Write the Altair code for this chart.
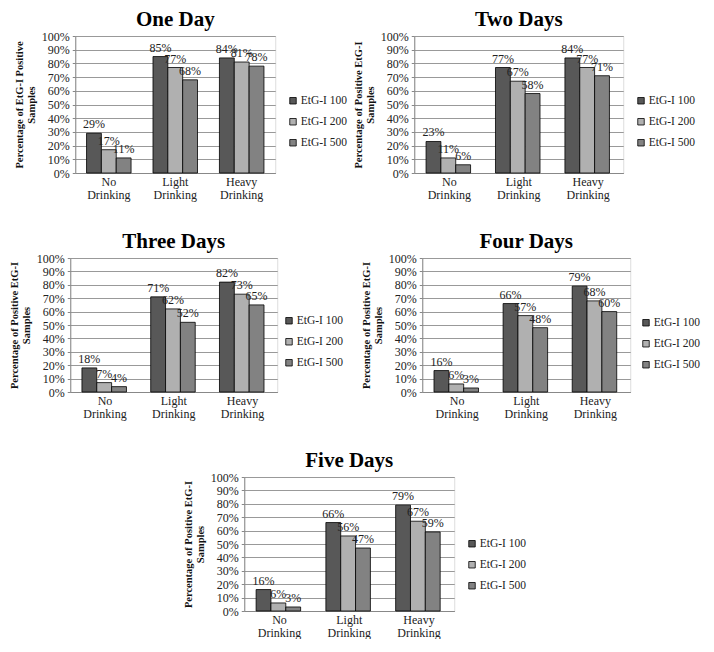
import altair as alt
import pandas as pd

categories = ["No Drinking", "Light Drinking", "Heavy Drinking"]
series = ["EtG-I 100", "EtG-I 200", "EtG-I 500"]
colors = ["#585858", "#b0b0b0", "#828282"]

titles = ["One Day", "Two Days", "Three Days", "Four Days", "Five Days"]
y_titles = [
    ["Percentage of EtG-I  Positive", "Samples"],
    ["Percentage of Positive EtG-I", "Samples"],
    ["Percentage of Positive EtG-I", "Samples"],
    ["Percentage of Positive EtG-I", "Samples"],
    ["Percentage of Positive EtG-I", "Samples"],
]

# values per series: [No Drinking, Light Drinking, Heavy Drinking]
one_day_100 = [29, 85, 84]
one_day_200 = [17, 77, 81]
one_day_500 = [11, 68, 78]

two_days_100 = [23, 77, 84]
two_days_200 = [11, 67, 77]
two_days_500 = [6, 58, 71]

three_days_100 = [18, 71, 82]
three_days_200 = [7, 62, 73]
three_days_500 = [4, 52, 65]

four_days_100 = [16, 66, 79]
four_days_200 = [6, 57, 68]
four_days_500 = [3, 48, 60]

five_days_100 = [16, 66, 79]
five_days_200 = [6, 56, 67]
five_days_500 = [3, 47, 59]

panel_values = [
    [one_day_100, one_day_200, one_day_500],
    [two_days_100, two_days_200, two_days_500],
    [three_days_100, three_days_200, three_days_500],
    [four_days_100, four_days_200, four_days_500],
    [five_days_100, five_days_200, five_days_500],
]

FONT = "Liberation Serif"
panel_w = [200, 209, 207, 208, 210]
panel_h = [137, 137, 134, 134, 134]
legend_offset = [12, 12, 6, 10, 12]
legend_pad = [58, 58, 56, 58, 60]


def panel(i):
    rows = []
    for s, vals in zip(series, panel_values[i]):
        for c, v in zip(categories, vals):
            rows.append({"cat": c, "series": s, "value": v, "label": f"{v}%"})
    df = pd.DataFrame(rows)
    base = alt.Chart(df).encode(
        x=alt.X(
            "cat:N",
            sort=categories,
            scale=alt.Scale(paddingInner=0.33, paddingOuter=0.17),
            axis=alt.Axis(
                title=None,
                labelAngle=0,
                labelExpr="split(datum.label, ' ')",
                ticks=False,
                domainColor="#888888",
                labelFont=FONT,
                labelFontSize=12,
                labelColor="#222222",
                labelPadding=3,
                labelLineHeight=13,
            ),
        ),
        xOffset=alt.XOffset("series:N", sort=series),
        y=alt.Y(
            "value:Q",
            scale=alt.Scale(domain=[0, 100], nice=False),
            axis=alt.Axis(
                values=list(range(0, 101, 10)),
                labelExpr="datum.value + '%'",
                title=y_titles[i],
                titleFont=FONT,
                titleFontSize=10.5,
                titleFontWeight="bold",
                titleColor="#111111",
                titleLineHeight=12,
                titlePadding=5,
                labelFont=FONT,
                labelFontSize=12,
                labelColor="#222222",
                ticks=True,
                tickSize=3,
                tickColor="#888888",
                domainColor="#888888",
                gridColor="#999999",
                labelPadding=3,
            ),
        ),
    )
    bars = base.mark_bar(stroke="black", strokeWidth=0.8).encode(
        color=alt.Color(
            "series:N",
            sort=series,
            scale=alt.Scale(domain=series, range=colors),
            legend=alt.Legend(
                title=" ",
                titleFontSize=1,
                titlePadding=legend_pad[i],
                orient="right",
                offset=legend_offset[i],
                padding=0,
                symbolType="square",
                symbolSize=42,
                symbolStrokeWidth=0.8,
                labelFont=FONT,
                labelFontSize=11.5,
                labelColor="#222222",
                rowPadding=8,
                labelOffset=2,
            ),
        )
    )
    labels = base.mark_text(
        baseline="bottom", dy=-2, font=FONT, fontSize=12, color="#222222"
    ).encode(text="label:N")
    return alt.layer(bars, labels).properties(
        width=panel_w[i],
        height=panel_h[i],
        title=alt.TitleParams(
            titles[i],
            font=FONT,
            fontSize=21,
            fontWeight="bold",
            color="#000000",
            anchor="middle",
            frame="group",
            offset=0,
        ),
    )


row1 = (
    alt.hconcat(panel(0), panel(1), spacing=4)
    .resolve_scale(color="independent")
    .resolve_legend(color="independent")
)
row2 = (
    alt.hconcat(panel(2), panel(3), spacing=16)
    .resolve_scale(color="independent")
    .resolve_legend(color="independent")
)
chart = (
    alt.vconcat(row1, row2, panel(4), spacing=29, center=True)
    .resolve_scale(color="independent")
    .resolve_legend(color="independent")
    .properties(padding=0)
    .configure_view(stroke=None)
    .configure(background="white")
)

chart.save("out.html", embed_options={"renderer": "svg", "actions": False})
